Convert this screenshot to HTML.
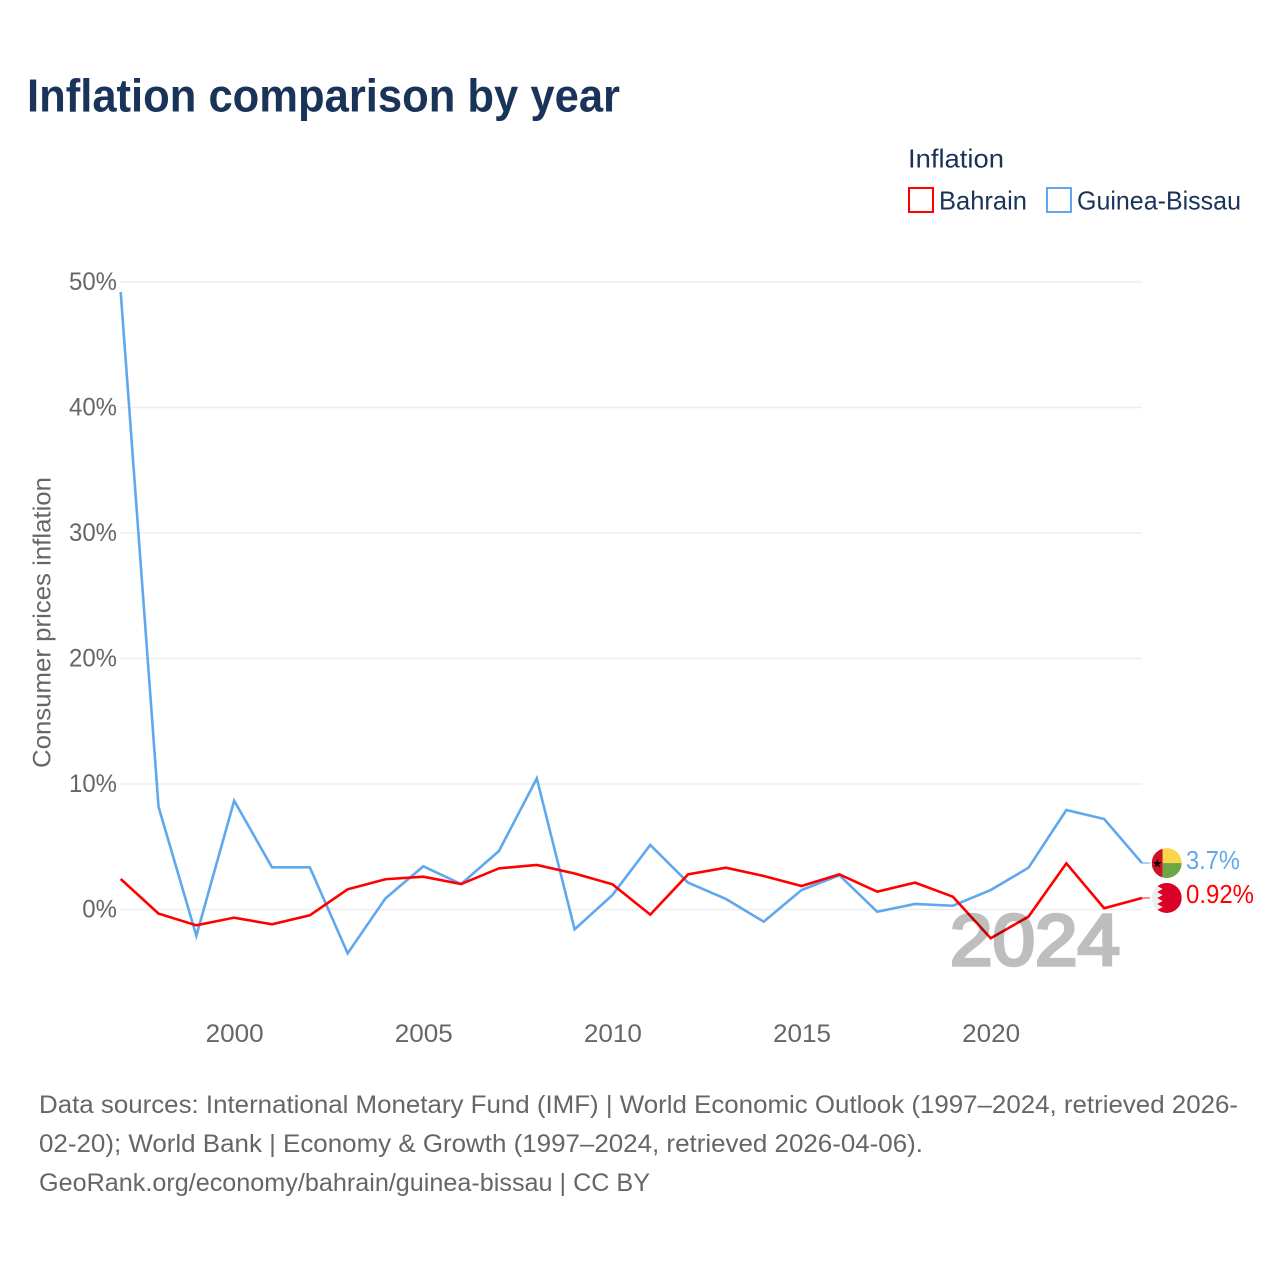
<!DOCTYPE html>
<html lang="en">
<head>
<meta charset="utf-8">
<title>Inflation comparison by year</title>
<style>
html,body{margin:0;padding:0;background:#fff;}
svg{display:block;font-family:"Liberation Sans",sans-serif;}
</style>
</head>
<body>
<svg id="chart" width="1280" height="1280" viewBox="0 0 1280 1280" xmlns="http://www.w3.org/2000/svg">
  <defs>
    <clipPath id="flag-clip-gw"><circle cx="1166.7" cy="0" r="15"/></clipPath>
    <clipPath id="flag-clip-bh"><circle cx="1166.7" cy="0" r="15"/></clipPath>
  </defs>
  <rect width="1280" height="1280" fill="#fff"/>
  <text x="27" y="111.5" font-size="46" font-weight="700" fill="#1a3358" textLength="593" lengthAdjust="spacingAndGlyphs">Inflation comparison by year</text>

  <g font-size="26" fill="#1a3358">
    <text x="908" y="167.5" textLength="96" lengthAdjust="spacingAndGlyphs">Inflation</text>
    <g>
      <rect x="909" y="188" width="24" height="24" fill="none" stroke="#ff0000" stroke-width="2"/>
      <text x="939" y="209.5" textLength="88" lengthAdjust="spacingAndGlyphs">Bahrain</text>
    </g>
    <g>
      <rect x="1047" y="188" width="24" height="24" fill="none" stroke="#5fa8ee" stroke-width="2"/>
      <text x="1077" y="209.5" textLength="164" lengthAdjust="spacingAndGlyphs">Guinea-Bissau</text>
    </g>
  </g>

  <text transform="translate(50.5,768) rotate(-90)" font-size="25" fill="#666" textLength="291" lengthAdjust="spacingAndGlyphs">Consumer prices inflation</text>

  <g id="grid"></g>
  <g id="yticks"></g>
  <g id="xticks"></g>
  <g id="series"></g>
  <text x="1035" y="965" font-size="72" font-weight="400" fill="#000" stroke="#000" stroke-width="3.4" opacity="0.25" text-anchor="middle" textLength="170" lengthAdjust="spacingAndGlyphs">2024</text>
  <g id="ends"></g>

  <g font-size="25" fill="#666">
    <text x="39" y="1113" textLength="1199" lengthAdjust="spacingAndGlyphs">Data sources: International Monetary Fund (IMF) | World Economic Outlook (1997–2024, retrieved 2026-</text>
    <text x="39" y="1152" textLength="884" lengthAdjust="spacingAndGlyphs">02-20); World Bank | Economy &amp; Growth (1997–2024, retrieved 2026-04-06).</text>
    <text x="39" y="1191" textLength="611" lengthAdjust="spacingAndGlyphs">GeoRank.org/economy/bahrain/guinea-bissau | CC BY</text>
  </g>
</svg>
<script>
const years = [1997,1998,1999,2000,2001,2002,2003,2004,2005,2006,2007,2008,2009,2010,2011,2012,2013,2014,2015,2016,2017,2018,2019,2020,2021,2022,2023,2024];
const bahrainValues = [2.43,-0.33,-1.26,-0.65,-1.18,-0.46,1.61,2.41,2.61,2.03,3.28,3.55,2.87,2.01,-0.41,2.80,3.33,2.67,1.87,2.80,1.42,2.14,1.02,-2.29,-0.57,3.68,0.10,0.92];
const guineaBissauValues = [49.2,8.19,-2.09,8.67,3.36,3.36,-3.49,0.89,3.44,2.03,4.66,10.45,-1.58,1.16,5.14,2.14,0.84,-0.97,1.55,2.73,-0.18,0.44,0.30,1.55,3.33,7.93,7.21,3.7];
const yTickValues = [0,10,20,30,40,50];
const yTickLabels = ["0%","10%","20%","30%","40%","50%"];
const xTickValues = [2000,2005,2010,2015,2020];
const xTickLabels = ["2000","2005","2010","2015","2020"];
const bahrainEndLabel = "0.92%";
const guineaBissauEndLabel = "3.7%";

const NS = "http://www.w3.org/2000/svg";
function xScale(year){ return 120.7 + (year - 1997) * (1142 - 120.7) / (2024 - 1997); }
function yScale(value){ return 909.5 - value * 12.55; }
function make(tag, attrs, parent){
  const el = document.createElementNS(NS, tag);
  for (const k in attrs) el.setAttribute(k, attrs[k]);
  parent.appendChild(el);
  return el;
}
const grid = document.getElementById('grid');
const yticks = document.getElementById('yticks');
const xticks = document.getElementById('xticks');
const seriesGroup = document.getElementById('series');
const ends = document.getElementById('ends');

yTickValues.forEach(function(v, i){
  const line = make('line', {x1:120.5, x2:1142, y1:yScale(v), y2:yScale(v), stroke:'#eeeeee', 'stroke-width':1.6}, grid);
  
  
  const label = make('text', {x:117, y:yScale(v)+7.8, 'text-anchor':'end', 'font-size':25, fill:'#666'}, yticks);
  
  
  label.textContent = yTickLabels[i];
  label.setAttribute('textLength', (label.getComputedTextLength() * 0.96).toFixed(1));
  label.setAttribute('lengthAdjust', 'spacingAndGlyphs');
});

xTickValues.forEach(function(v, i){
  const label = make('text', {x:xScale(v)+0.5, y:1042, 'text-anchor':'middle', 'font-size':25, fill:'#666', textLength:58, lengthAdjust:'spacingAndGlyphs'}, xticks);
  
  
  label.textContent = xTickLabels[i];
});

function linePoints(values){
  return values.map(function(v, i){ return xScale(years[i]).toFixed(2) + ',' + yScale(v).toFixed(2); }).join(' ');
}
const lineGuinea = make('polyline', {points:linePoints(guineaBissauValues), fill:'none', stroke:'#5fa8ee', 'stroke-width':2.6, 'stroke-linejoin':'miter'}, seriesGroup);


const lineBahrain = make('polyline', {points:linePoints(bahrainValues), fill:'none', stroke:'#ff0000', 'stroke-width':2.6, 'stroke-linejoin':'miter'}, seriesGroup);



const flagX = 1166.7;
const lastX = xScale(years[years.length-1]);
const gwY = yScale(guineaBissauValues[guineaBissauValues.length-1]);
const bhY = yScale(bahrainValues[bahrainValues.length-1]);

const gwConn = make('line', {x1:lastX, x2:1150, y1:gwY, y2:gwY, stroke:'#5fa8ee', 'stroke-width':1.5, 'stroke-opacity':0.7}, ends);


const bhConn = make('line', {x1:lastX, x2:1150, y1:bhY, y2:bhY, stroke:'#ff0000', 'stroke-width':1.5, 'stroke-opacity':0.6}, ends);



document.querySelector('#flag-clip-gw circle').setAttribute('cy', gwY);
document.querySelector('#flag-clip-bh circle').setAttribute('cy', bhY);

const gwFlag = make('g', {'clip-path':'url(#flag-clip-gw)'}, ends);


make('rect', {x:flagX-15, y:gwY-15, width:11, height:30, fill:'#ce1126'}, gwFlag);
make('rect', {x:flagX-4, y:gwY-15, width:19, height:15, fill:'#fcd548'}, gwFlag);
make('rect', {x:flagX-4, y:gwY, width:19, height:15, fill:'#6fa544'}, gwFlag);
const star = make('text', {x:flagX-9.5, y:gwY+4.5, 'text-anchor':'middle', 'font-size':12, fill:'#000', 'font-family':'"DejaVu Sans",sans-serif'}, gwFlag);
star.textContent = '★';

const bhFlag = make('g', {'clip-path':'url(#flag-clip-bh)'}, ends);


make('rect', {x:flagX-15, y:bhY-15, width:30, height:30, fill:'#eeeeee'}, bhFlag);
const teeth = 5;
const toothH = 30 / teeth;
let pts = [(flagX+15)+','+(bhY-15)];
for (let t = 0; t < teeth; t++){
  pts.push((flagX-4)+','+(bhY-15+t*toothH));
  pts.push((flagX-9.5)+','+(bhY-15+(t+0.5)*toothH));
}
pts.push((flagX-4)+','+(bhY+15));
pts.push((flagX+15)+','+(bhY+15));
make('polygon', {points:pts.join(' '), fill:'#da0027'}, bhFlag);

const gwLabel = make('text', {x:1186, y:gwY+5.8, 'font-size':26, fill:'#5fa8ee', textLength:54, lengthAdjust:'spacingAndGlyphs'}, ends);


gwLabel.textContent = guineaBissauEndLabel;
const bhLabel = make('text', {x:1186, y:bhY+5, 'font-size':26, fill:'#ff0000', textLength:68, lengthAdjust:'spacingAndGlyphs'}, ends);


bhLabel.textContent = bahrainEndLabel;
</script>
</body>
</html>
